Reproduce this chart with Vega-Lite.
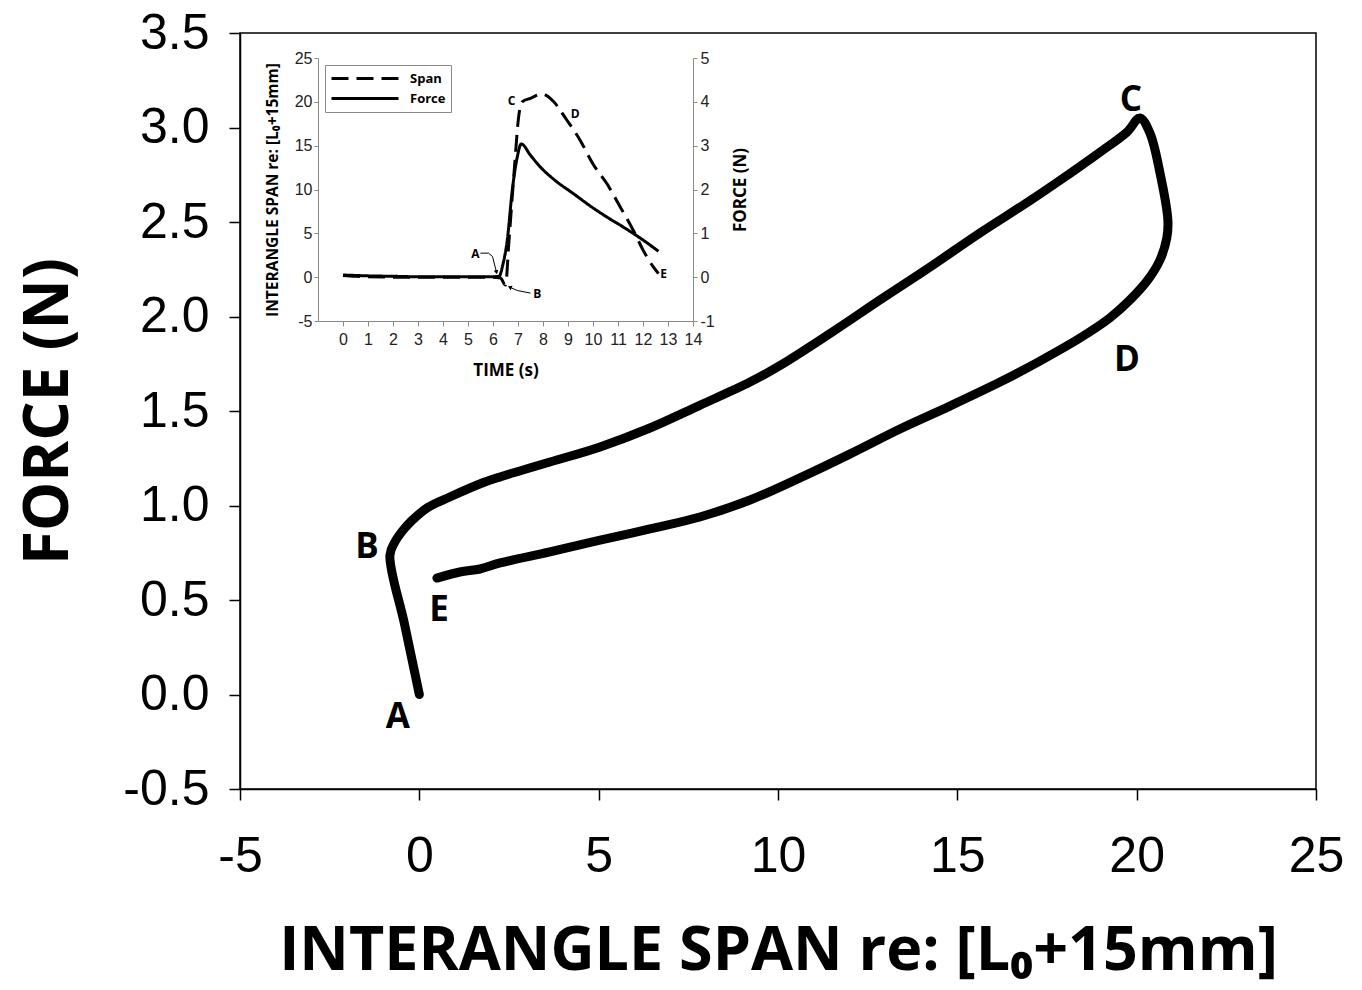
{
  "$schema": "https://vega.github.io/schema/vega-lite/v6.json",
  "width": 1076,
  "height": 756,
  "autosize": "none",
  "padding": {"left": 240, "top": 33, "right": 46, "bottom": 201},
  "background": "white",
  "config": {
    "view": {"stroke": "black", "strokeWidth": 1.5},
    "axis": {"grid": false}
  },
  "datasets": {
    "main": [
      {"i": 1, "x": 0, "y": 0},
      {"i": 2, "x": -0.41, "y": 0.37},
      {"i": 3, "x": -0.82, "y": 0.738},
      {"i": 4, "x": -0.68, "y": 0.807},
      {"i": 5, "x": -0.45, "y": 0.87},
      {"i": 6, "x": -0.21, "y": 0.92},
      {"i": 7, "x": 0.24, "y": 0.99},
      {"i": 8, "x": 0.85, "y": 1.045},
      {"i": 9, "x": 1.77, "y": 1.12},
      {"i": 10, "x": 2.25, "y": 1.151},
      {"i": 11, "x": 3.64, "y": 1.23},
      {"i": 12, "x": 5.04, "y": 1.31},
      {"i": 13, "x": 6.43, "y": 1.41},
      {"i": 14, "x": 7.82, "y": 1.53},
      {"i": 15, "x": 9.22, "y": 1.653},
      {"i": 16, "x": 10.05, "y": 1.74},
      {"i": 17, "x": 11.45, "y": 1.91},
      {"i": 18, "x": 12.84, "y": 2.087},
      {"i": 19, "x": 14.24, "y": 2.262},
      {"i": 20, "x": 15.63, "y": 2.442},
      {"i": 21, "x": 17.02, "y": 2.612},
      {"i": 22, "x": 17.86, "y": 2.72},
      {"i": 23, "x": 18.98, "y": 2.87},
      {"i": 24, "x": 19.73, "y": 2.976},
      {"i": 25, "x": 20.09, "y": 3.05},
      {"i": 26, "x": 20.37, "y": 2.97},
      {"i": 27, "x": 20.65, "y": 2.76},
      {"i": 28, "x": 20.87, "y": 2.51},
      {"i": 29, "x": 20.84, "y": 2.415},
      {"i": 30, "x": 20.65, "y": 2.299},
      {"i": 31, "x": 20.31, "y": 2.193},
      {"i": 32, "x": 19.81, "y": 2.087},
      {"i": 33, "x": 19.25, "y": 1.992},
      {"i": 34, "x": 18.42, "y": 1.886},
      {"i": 35, "x": 17.3, "y": 1.764},
      {"i": 36, "x": 16.19, "y": 1.653},
      {"i": 37, "x": 14.79, "y": 1.526},
      {"i": 38, "x": 13.4, "y": 1.405},
      {"i": 39, "x": 12.0, "y": 1.272},
      {"i": 40, "x": 10.61, "y": 1.146},
      {"i": 41, "x": 9.22, "y": 1.029},
      {"i": 42, "x": 7.82, "y": 0.939},
      {"i": 43, "x": 6.43, "y": 0.876},
      {"i": 44, "x": 5.04, "y": 0.817},
      {"i": 45, "x": 3.64, "y": 0.754},
      {"i": 46, "x": 2.25, "y": 0.696},
      {"i": 47, "x": 1.69, "y": 0.664},
      {"i": 48, "x": 1.13, "y": 0.648},
      {"i": 49, "x": 0.49, "y": 0.616}
    ],
    "mainLabels": [
      {"label": "A", "x": -0.6, "y": -0.12},
      {"label": "B", "x": -1.46, "y": 0.78},
      {"label": "C", "x": 19.84, "y": 3.146},
      {"label": "D", "x": 19.73, "y": 1.77},
      {"label": "E", "x": 0.55, "y": 0.447}
    ],
    "span": [
      {"series": "Span", "t": 0, "s": 0.2},
      {"series": "Span", "t": 0.5, "s": 0.1},
      {"series": "Span", "t": 1, "s": 0.05},
      {"series": "Span", "t": 2, "s": 0},
      {"series": "Span", "t": 3, "s": 0},
      {"series": "Span", "t": 4, "s": 0},
      {"series": "Span", "t": 5, "s": 0},
      {"series": "Span", "t": 6, "s": 0},
      {"series": "Span", "t": 6.3, "s": -0.1},
      {"series": "Span", "t": 6.5, "s": -0.9},
      {"series": "Span", "t": 6.64, "s": 4.2},
      {"series": "Span", "t": 6.84, "s": 11.8},
      {"series": "Span", "t": 7.04, "s": 18.6},
      {"series": "Span", "t": 7.17, "s": 20.0},
      {"series": "Span", "t": 7.5, "s": 20.4},
      {"series": "Span", "t": 7.97, "s": 20.9},
      {"series": "Span", "t": 8.2, "s": 20.6},
      {"series": "Span", "t": 8.43, "s": 20.0},
      {"series": "Span", "t": 8.96, "s": 17.9},
      {"series": "Span", "t": 9.49, "s": 15.6},
      {"series": "Span", "t": 10.0, "s": 12.9},
      {"series": "Span", "t": 10.56, "s": 10.65},
      {"series": "Span", "t": 11.09, "s": 8.0},
      {"series": "Span", "t": 11.62, "s": 5.3},
      {"series": "Span", "t": 12.02, "s": 3.0},
      {"series": "Span", "t": 12.42, "s": 1.14},
      {"series": "Span", "t": 12.62, "s": 0.4}
    ],
    "force": [
      {"series": "Force", "t": 0, "f": 0.05},
      {"series": "Force", "t": 1, "f": 0.03},
      {"series": "Force", "t": 2, "f": 0.02},
      {"series": "Force", "t": 3, "f": 0.01},
      {"series": "Force", "t": 4, "f": 0.01},
      {"series": "Force", "t": 5, "f": 0.01},
      {"series": "Force", "t": 6, "f": 0.01},
      {"series": "Force", "t": 6.24, "f": 0.02},
      {"series": "Force", "t": 6.4, "f": 0.3},
      {"series": "Force", "t": 6.57, "f": 0.84},
      {"series": "Force", "t": 6.77, "f": 1.98},
      {"series": "Force", "t": 6.97, "f": 2.74},
      {"series": "Force", "t": 7.13, "f": 3.04},
      {"series": "Force", "t": 7.5, "f": 2.78},
      {"series": "Force", "t": 7.9, "f": 2.51},
      {"series": "Force", "t": 8.5, "f": 2.2},
      {"series": "Force", "t": 9.23, "f": 1.9},
      {"series": "Force", "t": 9.9, "f": 1.62},
      {"series": "Force", "t": 10.56, "f": 1.37},
      {"series": "Force", "t": 11.22, "f": 1.14},
      {"series": "Force", "t": 12.02, "f": 0.84},
      {"series": "Force", "t": 12.62, "f": 0.59}
    ],
    "insetLabels": [
      {"label": "A", "t": 5.3, "s": 2.67},
      {"label": "B", "t": 7.77, "s": -1.9},
      {"label": "C", "t": 6.74, "s": 20.15},
      {"label": "D", "t": 9.29, "s": 18.65},
      {"label": "E", "t": 12.82, "s": 0.39}
    ],
    "arrows": [
      {"id": "A", "i": 1, "t": 5.5, "s": 2.74},
      {"id": "A", "i": 2, "t": 5.82, "s": 2.74},
      {"id": "A", "i": 3, "t": 5.98, "s": 2.36},
      {"id": "A", "i": 4, "t": 6.14, "s": 0.57},
      {"id": "B", "i": 1, "t": 7.5, "s": -1.82},
      {"id": "B", "i": 2, "t": 6.97, "s": -1.52},
      {"id": "B", "i": 3, "t": 6.67, "s": -1.14}
    ],
    "headA": [{"t": 6.14, "s": 0.57}],
    "headB": [{"t": 6.67, "s": -1.14}]
  },
  "layer": [
    {
      "layer": [
        {
          "data": {"name": "main"},
          "mark": {"type": "line", "color": "black", "strokeWidth": 9, "strokeCap": "round", "strokeJoin": "round", "interpolate": "catmull-rom"},
          "encoding": {
            "x": {
              "field": "x", "type": "quantitative",
              "scale": {"domain": [-5, 25], "nice": false, "zero": false},
              "axis": {
                "orient": "bottom", "values": [-5, 0, 5, 10, 15, 20, 25],
                "tickSize": 11, "tickWidth": 1.5, "tickColor": "black",
                "domainColor": "black", "domainWidth": 1.5,
                "labelFont": "Liberation Sans", "labelFontSize": 50, "labelColor": "black",
                "labelPadding": 31, "labelFlush": false, "labelOverlap": false,
                "labelExpr": "replace(datum.label, '\u2212', '-')",
                "title": "INTERANGLE SPAN re: [L₀+15mm]",
                "titleFont": "Open Sans", "titleFontWeight": "bold",
                "titleFontSize": 61, "titleColor": "black", "titlePadding": 40
              }
            },
            "y": {
              "field": "y", "type": "quantitative",
              "scale": {"domain": [-0.5, 3.5], "nice": false, "zero": false},
              "axis": {
                "orient": "left", "values": [-0.5, 0, 0.5, 1, 1.5, 2, 2.5, 3, 3.5],
                "format": ".1f",
                "tickSize": 11, "tickWidth": 1.5, "tickColor": "black",
                "domainColor": "black", "domainWidth": 1.5,
                "labelFont": "Liberation Sans", "labelFontSize": 50, "labelColor": "black",
                "labelPadding": 20, "labelFlush": false, "labelOverlap": false,
                "labelExpr": "replace(datum.label, '\u2212', '-')",
                "title": "FORCE (N)",
                "titleFont": "Open Sans", "titleFontWeight": "bold",
                "titleFontSize": 62, "titleColor": "black", "titlePadding": 42
              }
            },
            "order": {"field": "i", "type": "quantitative"}
          }
        },
        {
          "data": {"name": "mainLabels"},
          "mark": {"type": "text", "font": "Open Sans", "fontWeight": "bold", "fontSize": 35, "color": "black", "align": "center", "baseline": "middle"},
          "encoding": {
            "x": {"field": "x", "type": "quantitative"},
            "y": {"field": "y", "type": "quantitative"},
            "text": {"field": "label"}
          }
        }
      ]
    },
    {
      "layer": [
        {
          "layer": [
            {
              "data": {"name": "span"},
              "mark": {"type": "line", "color": "black", "strokeWidth": 3, "interpolate": "monotone"},
              "encoding": {
                "x": {
                  "field": "t", "type": "quantitative",
                  "scale": {"domain": [-1, 14], "range": [78, 453], "nice": false, "zero": false},
                  "axis": {
                    "orient": "bottom", "offset": -468, "format": "d",
                    "values": [0, 1, 2, 3, 4, 5, 6, 7, 8, 9, 10, 11, 12, 13, 14],
                    "tickSize": 5, "tickColor": "#8a8a8a", "domainColor": "#8a8a8a", "domainWidth": 1,
                    "labelFont": "Liberation Sans", "labelFontSize": 16, "labelColor": "#222",
                    "labelPadding": 5, "labelFlush": false, "labelOverlap": false,
                    "title": "TIME (s)", "titleFont": "Open Sans", "titleFontWeight": "bold",
                    "titleFontSize": 17, "titleColor": "black", "titlePadding": 15
                  }
                },
                "y": {
                  "field": "s", "type": "quantitative",
                  "scale": {"domain": [-5, 25], "range": [288, 25], "nice": false, "zero": false},
                  "axis": {
                    "orient": "left", "offset": -78, "format": "d",
                    "values": [-5, 0, 5, 10, 15, 20, 25],
                    "tickSize": 4, "tickColor": "#8a8a8a", "domainColor": "#8a8a8a", "domainWidth": 1,
                    "labelFont": "Liberation Sans", "labelFontSize": 16, "labelColor": "#222",
                    "labelPadding": 2, "labelFlush": false, "labelOverlap": false,
                    "labelExpr": "replace(datum.label, '\u2212', '-')",
                    "title": "INTERANGLE SPAN re: [L₀+15mm]", "titleFont": "Open Sans", "titleFontWeight": "bold",
                    "titleFontSize": 15.5, "titleColor": "black", "titlePadding": 14
                  }
                },
                "strokeDash": {
                  "field": "series", "type": "nominal",
                  "scale": {"domain": ["Span", "Force"], "range": [[17, 8], [1, 0]]},
                  "legend": {
                    "orient": "none", "legendX": 85, "legendY": 32, "title": null,
                    "symbolType": "stroke", "symbolSize": 4489, "symbolStrokeWidth": 3,
                    "symbolStrokeColor": "black", "clipHeight": 17, "rowPadding": 3,
                    "padding": 5, "strokeColor": "#8a8a8a", "fillColor": "white",
                    "labelFont": "Open Sans", "labelFontWeight": "bold", "labelFontSize": 13,
                    "labelColor": "black", "labelOffset": 10
                  }
                }
              }
            },
            {
              "mark": {"type": "rect", "filled": false, "color": "#8a8a8a", "strokeWidth": 1},
              "encoding": {
                "x": {"datum": -1, "type": "quantitative"},
                "x2": {"datum": 14},
                "y": {"datum": -5, "type": "quantitative"},
                "y2": {"datum": 25}
              }
            },
            {
              "data": {"name": "insetLabels"},
              "mark": {"type": "text", "font": "Open Sans", "fontWeight": "bold", "fontSize": 12, "color": "black", "align": "center", "baseline": "middle"},
              "encoding": {
                "x": {"field": "t", "type": "quantitative"},
                "y": {"field": "s", "type": "quantitative"},
                "text": {"field": "label"}
              }
            },
            {
              "data": {"name": "arrows"},
              "mark": {"type": "line", "color": "black", "strokeWidth": 1},
              "encoding": {
                "x": {"field": "t", "type": "quantitative"},
                "y": {"field": "s", "type": "quantitative"},
                "detail": {"field": "id"},
                "order": {"field": "i", "type": "quantitative"}
              }
            },
            {
              "data": {"name": "headA"},
              "mark": {"type": "point", "shape": "triangle-up", "filled": true, "color": "black", "size": 22, "angle": 166, "opacity": 1},
              "encoding": {
                "x": {"field": "t", "type": "quantitative"},
                "y": {"field": "s", "type": "quantitative"}
              }
            },
            {
              "data": {"name": "headB"},
              "mark": {"type": "point", "shape": "triangle-up", "filled": true, "color": "black", "size": 22, "angle": 294, "opacity": 1},
              "encoding": {
                "x": {"field": "t", "type": "quantitative"},
                "y": {"field": "s", "type": "quantitative"}
              }
            }
          ]
        },
        {
          "data": {"name": "force"},
          "mark": {"type": "line", "color": "black", "strokeWidth": 3, "interpolate": "monotone"},
          "encoding": {
            "x": {"field": "t", "type": "quantitative"},
            "y": {
              "field": "f", "type": "quantitative",
              "scale": {"domain": [-1, 5], "range": [288, 25], "nice": false, "zero": false},
              "axis": {
                "orient": "right", "offset": -623, "format": "d",
                "values": [-1, 0, 1, 2, 3, 4, 5],
                "tickSize": 4, "tickColor": "#8a8a8a", "domainColor": "#8a8a8a", "domainWidth": 1,
                "labelFont": "Liberation Sans", "labelFontSize": 16, "labelColor": "#222",
                "labelPadding": 3, "labelFlush": false, "labelOverlap": false,
                "labelExpr": "replace(datum.label, '\u2212', '-')",
                "title": "FORCE (N)", "titleFont": "Open Sans", "titleFontWeight": "bold",
                "titleFontSize": 17, "titleColor": "black", "titlePadding": 18,
                "titleAngle": 270, "titleBaseline": "top"
              }
            },
            "strokeDash": {"field": "series", "type": "nominal"}
          }
        }
      ],
      "resolve": {"scale": {"y": "independent"}}
    }
  ],
  "resolve": {"scale": {"x": "independent", "y": "independent"}}
}
